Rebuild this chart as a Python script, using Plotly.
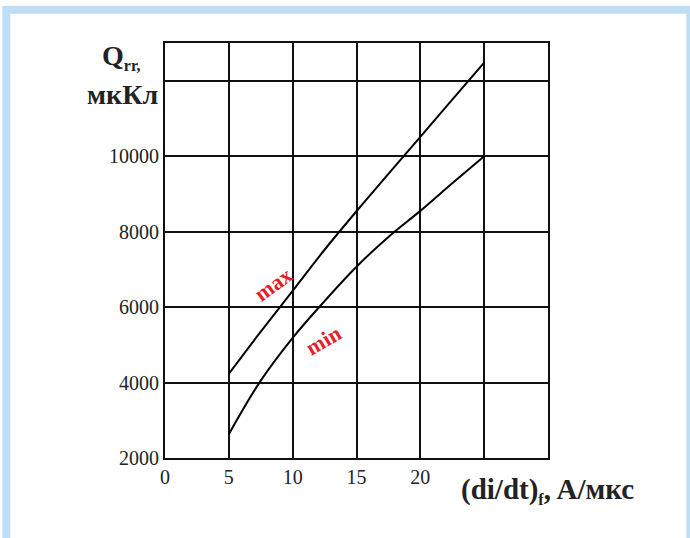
import plotly.graph_objects as go

# Data
x_vals = [5, 7.5, 10, 12.5, 15, 17.5, 20, 22.5, 25]
q_max = [4230, 5350, 6430, 7520, 8540, 9530, 10510, 11500, 12480]
q_min = [2630, 4050, 5185, 6160, 7070, 7860, 8550, 9280, 10000]

x_ticks = [0, 5, 10, 15, 20, 25]
x_ticktext = ["0", "5", "10", "15", "20", ""]
y_ticks = [2000, 4000, 6000, 8000, 10000, 12000]
y_ticktext = ["2000", "4000", "6000", "8000", "10000", ""]

W, H = 690, 538
L, R, T, B = 165, 547.7, 42.7, 457.7

def px(xp):
    return (xp - L) / (R - L)

def py(yp):
    return (B - yp) / (B - T)

FONT = "Liberation Serif, Times New Roman, serif"

fig = go.Figure()
for ys in (q_max, q_min):
    fig.add_trace(go.Scatter(x=x_vals, y=ys, mode="lines",
                             line=dict(color="black", width=2, shape="spline"),
                             showlegend=False, hoverinfo="skip"))

axis_common = dict(showgrid=True, gridcolor="#111111", gridwidth=1.5,
                   showline=True, linecolor="#111111", linewidth=2, mirror=True,
                   zeroline=False, ticks="",
                   tickfont=dict(family=FONT, size=20, color="#222222"))

fig.update_xaxes(range=[0, 30], tickvals=x_ticks, ticktext=x_ticktext, **axis_common)
fig.update_yaxes(range=[2000, 13000], tickvals=y_ticks, ticktext=y_ticktext, **axis_common)

annotations = [
    dict(text="<b>max</b>", x=(273 - L) / (R - L) * 30, y=2000 + (B - 284) / (B - T) * 11000,
         xref="x", yref="y", showarrow=False,
         textangle=-36, font=dict(family=FONT, size=22, color="#E3202A")),
    dict(text="<b>min</b>", x=(323 - L) / (R - L) * 30, y=2000 + (B - 340) / (B - T) * 11000,
         xref="x", yref="y", showarrow=False,
         textangle=-30, font=dict(family=FONT, size=22, color="#E3202A")),
    dict(text="<b>Q</b><sub><span style='font-size:16px'><b>rr,</b></span></sub>",
         x=px(143), y=py(57), xref="paper", yref="paper",
         xanchor="right", yanchor="middle", showarrow=False,
         font=dict(family=FONT, size=28, color="#222222")),
    dict(text="<b>мкКл</b>", x=px(160), y=py(94), xref="paper", yref="paper",
         xanchor="right", yanchor="middle", showarrow=False,
         font=dict(family=FONT, size=28, color="#222222")),
    dict(text="<b>(di/dt)</b><sub><span style='font-size:16px'><b>f</b></span></sub><b>, A/мкс</b>",
         x=px(459), y=py(490), xref="paper", yref="paper",
         xanchor="left", yanchor="middle", showarrow=False,
         font=dict(family=FONT, size=29, color="#222222")),
]

shapes = [
    dict(type="rect", xref="paper", yref="paper",
         x0=px(6.5), x1=px(690), y0=py(560), y1=py(9.5),
         line=dict(color="#BFDDF5", width=8), fillcolor="rgba(0,0,0,0)", layer="below"),
]

fig.update_layout(width=W, height=H, margin=dict(l=L, r=W - R, t=T, b=H - B),
                  paper_bgcolor="white", plot_bgcolor="white",
                  annotations=annotations, shapes=shapes, showlegend=False)

fig.write_html("out.html")
